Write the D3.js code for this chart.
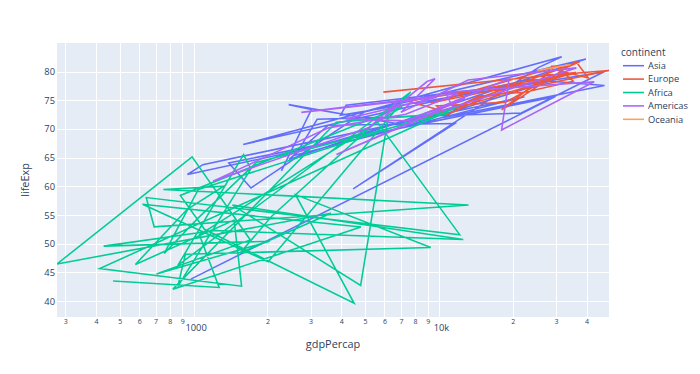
<!DOCTYPE html>
<html>
<head>
<meta charset="utf-8">
<script src="https://cdn.jsdelivr.net/npm/d3@7"></script>
<style>
  html, body { margin: 0; padding: 0; background: #fff; }
  svg { display: block; font-family: "Open Sans", verdana, arial, sans-serif; }
</style>
</head>
<body>
<svg id="chart" width="700" height="374"></svg>
<script>
// Gapminder 2007, points in dataset (alphabetical) order within each continent
const continents = ["Asia", "Europe", "Africa", "Americas", "Oceania"];
const colors = ["#636efa", "#EF553B", "#00cc96", "#ab63fa", "#FFA15A"];

const asiaGdp = [974.58, 29796.05, 1391.25, 1713.78, 4959.11, 39724.98, 2452.21, 3540.65, 11605.71, 4471.06, 25523.28, 31656.07, 4519.46, 1593.07, 23348.14, 47306.99, 10461.06, 12451.66, 3095.77, 944.0, 1091.36, 22316.19, 2605.95, 3190.48, 21654.83, 47143.18, 3970.10, 4184.55, 28718.28, 7458.40, 2441.58, 3025.35, 2280.77];
const asiaLifeExp = [43.828, 75.635, 64.062, 59.723, 72.961, 82.208, 64.698, 70.65, 70.964, 59.545, 80.745, 82.603, 72.535, 67.297, 78.623, 77.588, 71.993, 74.241, 66.803, 62.069, 63.785, 75.64, 65.483, 71.688, 72.777, 79.972, 72.396, 74.143, 78.4, 70.616, 74.249, 73.422, 62.698];

const europeGdp = [5937.03, 36126.49, 33692.61, 7446.30, 10680.79, 14619.22, 22833.31, 35278.42, 33207.08, 30470.02, 32170.37, 27538.41, 18008.94, 36180.79, 40676.00, 28569.72, 9253.90, 36797.93, 49357.19, 15389.92, 20509.65, 10808.48, 9786.53, 18678.31, 25768.26, 28821.06, 33859.75, 37506.42, 8458.28, 33203.26];
const europeLifeExp = [76.423, 79.829, 79.441, 74.852, 73.005, 75.748, 76.486, 78.332, 79.313, 80.657, 79.406, 79.483, 73.338, 81.757, 78.885, 80.546, 74.543, 79.762, 80.196, 75.563, 78.098, 72.476, 74.002, 74.663, 77.926, 80.941, 80.884, 81.701, 71.777, 79.425];

const africaGdp = [6223.37, 4797.23, 1441.28, 12569.85, 1217.03, 430.07, 2042.10, 706.02, 1704.06, 986.15, 277.55, 3632.56, 1544.75, 2082.48, 5581.18, 12154.09, 641.37, 690.81, 13206.48, 752.75, 1327.61, 942.65, 579.23, 1463.25, 1569.33, 414.51, 12057.50, 1044.77, 759.35, 1042.58, 1803.15, 10956.99, 3820.18, 823.69, 4811.06, 619.68, 2013.98, 7670.12, 863.09, 1598.44, 1712.47, 862.54, 926.14, 9269.66, 2602.39, 4513.48, 1107.48, 882.97, 7092.92, 1056.38, 1271.21, 469.71];
const africaLifeExp = [72.301, 42.731, 56.728, 50.728, 52.295, 49.58, 50.43, 44.741, 50.651, 65.152, 46.462, 55.322, 48.328, 54.791, 71.338, 51.579, 58.04, 52.947, 56.735, 59.448, 60.022, 56.007, 46.388, 54.11, 42.592, 45.678, 73.952, 59.443, 48.303, 54.467, 64.164, 72.801, 71.164, 42.082, 52.906, 56.867, 46.859, 76.442, 46.242, 65.528, 63.062, 42.568, 48.159, 49.339, 58.556, 39.613, 52.517, 58.42, 73.923, 51.542, 42.384, 43.487];

const americasGdp = [12779.38, 3822.14, 9065.80, 36319.24, 13171.64, 7006.58, 9645.06, 8948.10, 6025.37, 6873.26, 5728.35, 5186.05, 1201.64, 3548.33, 7320.88, 11977.57, 2749.32, 9809.19, 4172.84, 7408.91, 19328.71, 18008.51, 42951.65, 10611.46, 11415.81];
const americasLifeExp = [75.32, 65.554, 72.39, 80.653, 78.553, 72.889, 78.782, 78.273, 72.235, 74.994, 71.878, 70.259, 60.916, 70.198, 72.567, 76.195, 72.899, 75.537, 71.752, 71.421, 78.746, 69.819, 78.242, 76.384, 73.747];

const oceaniaGdp = [34435.37, 25185.01];
const oceaniaLifeExp = [81.235, 80.204];

const xTickValues = [300, 400, 500, 600, 700, 800, 900, 1000, 2000, 3000, 4000, 5000, 6000, 7000, 8000, 9000, 10000, 20000, 30000, 40000];
const yTickValues = [40, 45, 50, 55, 60, 65, 70, 75, 80];

const series = [
  { name: continents[0], color: colors[0], x: asiaGdp, y: asiaLifeExp },
  { name: continents[1], color: colors[1], x: europeGdp, y: europeLifeExp },
  { name: continents[2], color: colors[2], x: africaGdp, y: africaLifeExp },
  { name: continents[3], color: colors[3], x: americasGdp, y: americasLifeExp },
  { name: continents[4], color: colors[4], x: oceaniaGdp, y: oceaniaLifeExp }
];

const svg = d3.select("#chart");
const L = 57, R = 609, T = 43, B = 317;
const textColor = "#2a3f5f";

const allX = series.flatMap(s => s.x);
const allY = series.flatMap(s => s.y);
const x = d3.scaleLog().domain(d3.extent(allX)).range([L, R]);
const [yMin, yMax] = d3.extent(allY);
const pad = 0.05 * (yMax - yMin) / 0.9;
const y = d3.scaleLinear().domain([yMin - pad, yMax + pad]).range([B, T]);

svg.append("rect").attr("x", L).attr("y", T).attr("width", R - L).attr("height", B - T).attr("fill", "#E5ECF6");

// grid
const grid = svg.append("g").attr("stroke", "#fff").attr("stroke-width", 1);
grid.selectAll(".gx").data(xTickValues).join("line")
  .attr("x1", d => Math.round(x(d)) + 0.5).attr("x2", d => Math.round(x(d)) + 0.5)
  .attr("y1", T).attr("y2", B);
grid.selectAll(".gy").data(yTickValues).join("line")
  .attr("y1", d => Math.round(y(d)) + 0.5).attr("y2", d => Math.round(y(d)) + 0.5)
  .attr("x1", L).attr("x2", R);

// axes via d3 axis generators (domain/ticks hidden, labels styled)
const yAxis = svg.append("g").attr("transform", `translate(${L - 2},0)`)
  .call(d3.axisLeft(y).tickValues(yTickValues).tickSize(0).tickPadding(0));
yAxis.select(".domain").remove();
yAxis.selectAll("text").attr("fill", textColor).attr("font-size", 9.3)
  .attr("font-family", '"Open Sans", verdana, arial, sans-serif');

const isMajor = d => Math.abs(Math.log10(d) - Math.round(Math.log10(d))) < 1e-9;
const xAxis = svg.append("g").attr("transform", `translate(0,${B})`)
  .call(d3.axisBottom(x).tickValues(xTickValues).tickSize(0).tickPadding(0)
    .tickFormat(d => d === 1000 ? "1000" : d === 10000 ? "10k" : String(Math.round(d / Math.pow(10, Math.floor(Math.log10(d)))))));
xAxis.select(".domain").remove();
xAxis.selectAll("text")
  .attr("fill", textColor)
  .attr("font-family", '"Open Sans", verdana, arial, sans-serif')
  .attr("font-size", d => isMajor(d) ? 9.3 : 7)
  .attr("dy", null)
  .attr("y", d => isMajor(d) ? 14 : 6.5)
  .attr("x", d => isMajor(d) ? 2 : 0);

// axis titles
svg.append("text").attr("x", (L + R) / 2).attr("y", 348).attr("text-anchor", "middle")
  .attr("fill", textColor).attr("font-size", 10.9).text("gdpPercap");
svg.append("text").attr("transform", `translate(29,${(T + B) / 2}) rotate(-90)`).attr("text-anchor", "middle")
  .attr("fill", textColor).attr("font-size", 10.9).text("lifeExp");

// lines
svg.append("clipPath").attr("id", "clip").append("rect")
  .attr("x", L).attr("y", T).attr("width", R - L).attr("height", B - T);
const lineGen = d3.line().x(d => x(d[0])).y(d => y(d[1]));
svg.append("g").attr("clip-path", "url(#clip)")
  .selectAll("path").data(series).join("path")
  .attr("d", s => lineGen(s.x.map((v, i) => [v, s.y[i]])))
  .attr("fill", "none").attr("stroke", s => s.color).attr("stroke-width", 1.56);

// legend
const lg = svg.append("g");
lg.append("text").attr("x", 621).attr("y", 55.5).attr("fill", textColor).attr("font-size", 10).text("continent");
const items = lg.selectAll(".item").data(series).join("g").attr("transform", (d, i) => `translate(0,${65.7 + i * 13.4})`);
items.append("line").attr("x1", 623).attr("x2", 644).attr("y1", 0).attr("y2", 0)
  .attr("stroke", d => d.color).attr("stroke-width", 1.56);
items.append("text").attr("x", 648).attr("y", 0).attr("dy", "0.35em")
  .attr("fill", textColor).attr("font-size", 9.3).text(d => d.name);
</script>
</body>
</html>
